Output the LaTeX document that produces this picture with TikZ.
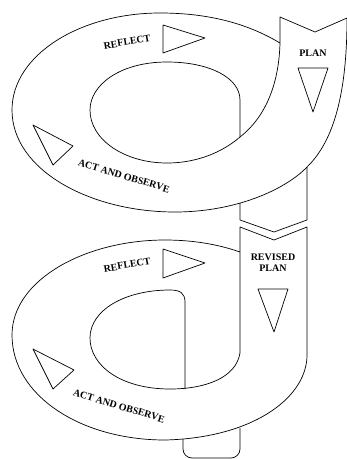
\documentclass[tikz,border=0pt]{standalone}
\usepackage{fontspec}
\setmainfont{Liberation Serif}
\usepackage{tikz}
\usetikzlibrary{positioning}

\begin{document}
\begin{tikzpicture}[
      x=1pt, y=-1pt,
      line/.style={draw, line width=0.7pt, line join=round},
      tri/.style={line},
      lbl/.style={font=\fontsize{10}{11}\selectfont\bfseries, inner sep=0pt, align=center}
    ]
    \useasboundingbox (0,0) rectangle (347,459);

    % First cycle
    \path[line] (280,43) .. controls (245,22) and (205,13) .. (160,13)
      .. controls (80,13) and (12,55) .. (12,110)
      .. controls (12,170) and (90,212) .. (175,212)
      .. controls (235,212) and (285,190) .. (307,167)
      .. controls (335,140) and (347,90) .. (347,18)
      -- (315,32) -- (280,17) -- (280,43)
      .. controls (279,80) and (268,115) .. (240,137);
    \path[line] (240,137) -- (240,100) .. controls (240,78) and (210,62) .. (167,62)
      .. controls (120,62) and (90,85) .. (90,110)
      .. controls (90,140) and (125,163) .. (167,163)
      .. controls (200,163) and (225,150) .. (240,137);
    \path[line] (240,203) -- (240,220) -- (274,232) -- (307,220) -- (307,167);

    \path[tri] (163,25) -- (205,38) -- (163,53) -- cycle;
    \path[tri] (298,68) -- (328,68) -- (313,112) -- cycle;
    \path[tri] (33,125) -- (73,146) -- (53,165) -- cycle;

    \node[lbl, rotate=10] (reflect1) at (127,42) {REFLECT};
    \node[lbl] (plan1) at (313,53) {PLAN};
    \node[lbl, rotate=-17] (act1) at (124,176) {ACT AND OBSERVE};

    % Second cycle
    \path[line] (240,353) -- (240,227) -- (274,240) -- (307,227) -- (307,357)
      .. controls (305,400) and (250,438) .. (165,440)
      .. controls (80,440) and (12,395) .. (12,335)
      .. controls (12,280) and (85,240) .. (165,240)
      .. controls (195,240) and (220,245) .. (240,252);
    \path[line] (240,353) .. controls (236,378) and (205,389) .. (170,389)
      .. controls (120,389) and (90,365) .. (90,338)
      .. controls (90,310) and (125,290) .. (170,290)
      .. controls (180,290) and (185,293) .. (185,302) -- (185,389);
    \path[line, rounded corners=9pt] (183,439) -- (183,458) -- (240,458) -- (240,428);

    \path[tri] (163,249) -- (205,263) -- (163,278) -- cycle;
    \path[tri] (258,289) -- (288,289) -- (274,332) -- cycle;
    \path[tri] (33,349) -- (74,370) -- (53,389) -- cycle;

    \node[lbl, rotate=10] (reflect2) at (127,265) {REFLECT};
    \node[lbl] (plan2) at (273,263) {REVISED\\PLAN};
    \node[lbl, rotate=-17] (act2) at (119,406) {ACT AND OBSERVE};
  \end{tikzpicture}
\end{document}
